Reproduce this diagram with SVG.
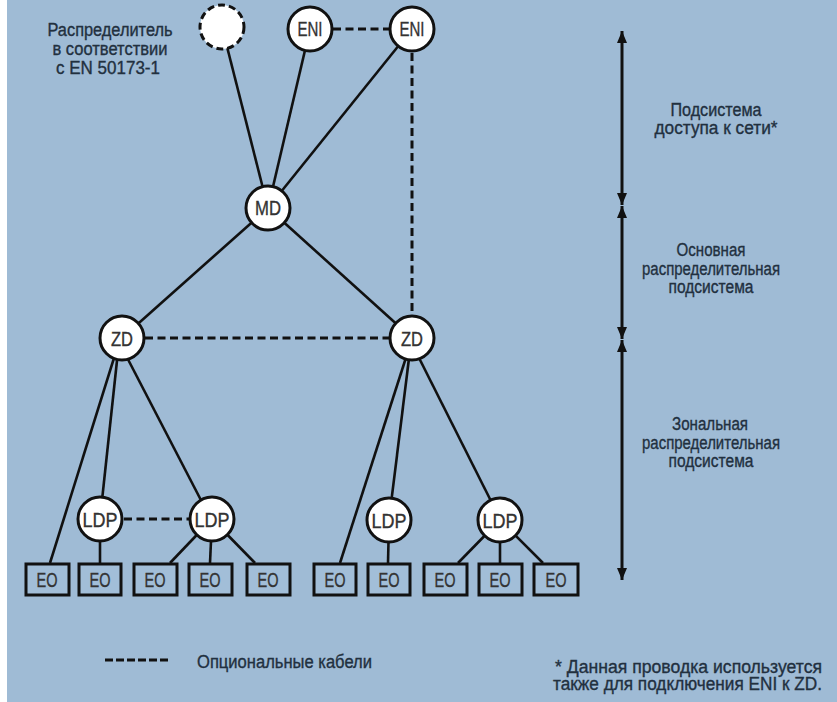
<svg xmlns="http://www.w3.org/2000/svg" width="837" height="702" viewBox="0 0 837 702">
<style>
.bg{fill:#9fbbd5}
.n{fill:#fff;stroke:#111;stroke-width:3}
.box{fill:#a2bed8;stroke:#111;stroke-width:3}
.l{stroke:#111;stroke-width:2.6;fill:none}
.d{stroke:#111;stroke-width:3;fill:none;stroke-dasharray:8 4.5}
.t{font-family:"Liberation Sans Narrow","Liberation Sans",Arial,sans-serif;fill:#22303f;text-anchor:middle;stroke:#22303f;stroke-width:0.35}
.lab{font-size:20px;fill:#333;stroke:#333}
.side{font-size:18px}
.ax{stroke:#111;stroke-width:3;fill:none}
</style>
<defs>
<marker id="ah" viewBox="0 0 12 10" refX="12" refY="5" markerWidth="12" markerHeight="10" markerUnits="userSpaceOnUse" orient="auto-start-reverse">
<path d="M0,0 L12,5 L0,10 z" fill="#111"/>
</marker>
</defs>
<rect class="bg" x="0" y="0" width="837" height="702"/>
<rect x="0" y="0" width="7" height="702" fill="#fff"/>

<g id="connectors">
<line class="l" x1="222" y1="27" x2="268" y2="208"/>
<line class="l" x1="310" y1="29" x2="268" y2="208"/>
<line class="l" x1="412" y1="29" x2="268" y2="208"/>
<line class="l" x1="268" y1="208" x2="122" y2="338"/>
<line class="l" x1="268" y1="208" x2="412" y2="338"/>
<line class="d" x1="333" y1="29" x2="390" y2="29"/>
<line class="d" x1="412" y1="53" x2="412" y2="316"/>
<line class="d" x1="145" y1="338" x2="390" y2="338"/>
<line class="l" x1="119" y1="342" x2="50" y2="563"/>
<line class="l" x1="119" y1="342" x2="100" y2="519"/>
<line class="l" x1="119" y1="342" x2="204" y2="506"/>
<line class="l" x1="411" y1="342" x2="340" y2="563"/>
<line class="l" x1="411" y1="342" x2="389" y2="520"/>
<line class="l" x1="411" y1="342" x2="494" y2="507"/>
<line class="d" x1="124" y1="519" x2="190" y2="519"/>
<line class="l" x1="100" y1="519" x2="100" y2="563"/>
<line class="l" x1="212" y1="519" x2="170" y2="563"/>
<line class="l" x1="212" y1="519" x2="210" y2="563"/>
<line class="l" x1="212" y1="519" x2="255" y2="563"/>
<line class="l" x1="389" y1="520" x2="388" y2="563"/>
<line class="l" x1="500" y1="520" x2="458" y2="563"/>
<line class="l" x1="500" y1="520" x2="500" y2="563"/>
<line class="l" x1="500" y1="520" x2="543" y2="563"/>
</g>

<g id="dist-optional"><circle cx="222" cy="27" r="22" fill="#fff" stroke="#111" stroke-width="3" stroke-dasharray="7 4"/></g>
<g id="eni1"><circle class="n" cx="310" cy="29" r="22"/><text class="t lab" x="310" y="36" textLength="25" lengthAdjust="spacingAndGlyphs">ENI</text></g>
<g id="eni2"><circle class="n" cx="412" cy="29" r="22"/><text class="t lab" x="412" y="36" textLength="25" lengthAdjust="spacingAndGlyphs">ENI</text></g>
<g id="md"><circle class="n" cx="268" cy="208" r="22"/><text class="t lab" x="268" y="215" textLength="26" lengthAdjust="spacingAndGlyphs">MD</text></g>
<g id="zd1"><circle class="n" cx="122" cy="338" r="22"/><text class="t lab" x="122" y="346" textLength="22" lengthAdjust="spacingAndGlyphs">ZD</text></g>
<g id="zd2"><circle class="n" cx="412" cy="338" r="22"/><text class="t lab" x="412" y="346" textLength="22" lengthAdjust="spacingAndGlyphs">ZD</text></g>
<g id="ldp1"><circle class="n" cx="100" cy="519" r="22"/><text class="t lab" x="100" y="527" textLength="35" lengthAdjust="spacingAndGlyphs">LDP</text></g>
<g id="ldp2"><circle class="n" cx="212" cy="519" r="22"/><text class="t lab" x="212" y="527" textLength="35" lengthAdjust="spacingAndGlyphs">LDP</text></g>
<g id="ldp3"><circle class="n" cx="389" cy="520" r="22"/><text class="t lab" x="389" y="528" textLength="35" lengthAdjust="spacingAndGlyphs">LDP</text></g>
<g id="ldp4"><circle class="n" cx="500" cy="520" r="22"/><text class="t lab" x="500" y="528" textLength="35" lengthAdjust="spacingAndGlyphs">LDP</text></g>

<g id="eo1"><rect class="box" x="26" y="564" width="43" height="31"/><text class="t lab" x="47" y="587" textLength="21" lengthAdjust="spacingAndGlyphs">EO</text></g>
<g id="eo2"><rect class="box" x="79" y="564" width="42" height="31"/><text class="t lab" x="100" y="587" textLength="21" lengthAdjust="spacingAndGlyphs">EO</text></g>
<g id="eo3"><rect class="box" x="134" y="564" width="43" height="31"/><text class="t lab" x="155" y="587" textLength="21" lengthAdjust="spacingAndGlyphs">EO</text></g>
<g id="eo4"><rect class="box" x="189" y="564" width="43" height="31"/><text class="t lab" x="210" y="587" textLength="21" lengthAdjust="spacingAndGlyphs">EO</text></g>
<g id="eo5"><rect class="box" x="247" y="564" width="43" height="31"/><text class="t lab" x="268" y="587" textLength="21" lengthAdjust="spacingAndGlyphs">EO</text></g>
<g id="eo6"><rect class="box" x="314" y="564" width="42" height="31"/><text class="t lab" x="335" y="587" textLength="21" lengthAdjust="spacingAndGlyphs">EO</text></g>
<g id="eo7"><rect class="box" x="368" y="564" width="42" height="31"/><text class="t lab" x="389" y="587" textLength="21" lengthAdjust="spacingAndGlyphs">EO</text></g>
<g id="eo8"><rect class="box" x="424" y="564" width="43" height="31"/><text class="t lab" x="445" y="587" textLength="21" lengthAdjust="spacingAndGlyphs">EO</text></g>
<g id="eo9"><rect class="box" x="479" y="564" width="43" height="31"/><text class="t lab" x="500" y="587" textLength="21" lengthAdjust="spacingAndGlyphs">EO</text></g>
<g id="eo10"><rect class="box" x="534" y="564" width="44" height="31"/><text class="t lab" x="556" y="587" textLength="21" lengthAdjust="spacingAndGlyphs">EO</text></g>

<g id="dist-label">
<text class="t side" x="110" y="36" textLength="125" lengthAdjust="spacingAndGlyphs">Распределитель</text>
<text class="t side" x="110" y="55" textLength="115" lengthAdjust="spacingAndGlyphs">в соответствии</text>
<text class="t side" x="108" y="74" textLength="104" lengthAdjust="spacingAndGlyphs">с EN 50173-1</text>
</g>

<g id="scale">
<line class="ax" x1="622" y1="31" x2="622" y2="205" marker-start="url(#ah)" marker-end="url(#ah)"/>
<line class="ax" x1="622" y1="206" x2="622" y2="339" marker-start="url(#ah)" marker-end="url(#ah)"/>
<line class="ax" x1="622" y1="340" x2="622" y2="580" marker-start="url(#ah)" marker-end="url(#ah)"/>
<text class="t side" x="716" y="116" textLength="91" lengthAdjust="spacingAndGlyphs">Подсистема</text>
<text class="t side" x="716" y="134" textLength="123" lengthAdjust="spacingAndGlyphs">доступа к сети*</text>
<text class="t side" x="711" y="256" textLength="69" lengthAdjust="spacingAndGlyphs">Основная</text>
<text class="t side" x="711" y="275" textLength="138" lengthAdjust="spacingAndGlyphs">распределительная</text>
<text class="t side" x="711" y="293" textLength="85" lengthAdjust="spacingAndGlyphs">подсистема</text>
<text class="t side" x="710" y="430" textLength="76" lengthAdjust="spacingAndGlyphs">Зональная</text>
<text class="t side" x="711" y="449" textLength="138" lengthAdjust="spacingAndGlyphs">распределительная</text>
<text class="t side" x="711" y="467" textLength="85" lengthAdjust="spacingAndGlyphs">подсистема</text>
</g>

<g id="legend">
<line x1="105" y1="660" x2="168" y2="660" stroke="#111" stroke-width="3" stroke-dasharray="8 3"/>
<text class="t side" x="197" y="668" style="text-anchor:start" textLength="175" lengthAdjust="spacingAndGlyphs">Опциональные кабели</text>
<text class="t side" x="822" y="673" style="text-anchor:end" textLength="267" lengthAdjust="spacingAndGlyphs">* Данная проводка используется</text>
<text class="t side" x="822" y="690" style="text-anchor:end" textLength="269" lengthAdjust="spacingAndGlyphs">также для подключения ENI к ZD.</text>
</g>
</svg>
